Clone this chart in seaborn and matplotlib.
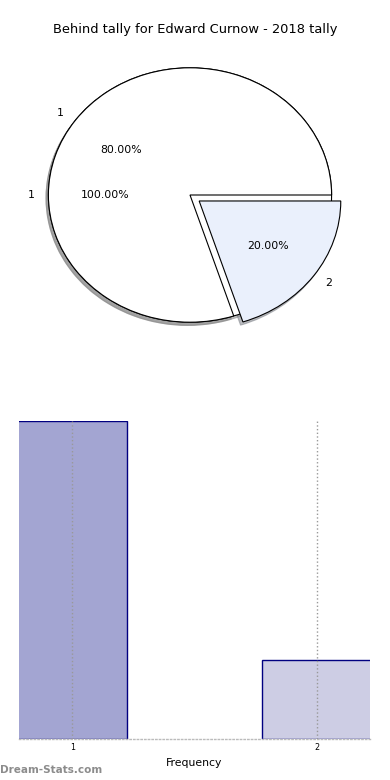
import matplotlib
matplotlib.use("Agg")
import matplotlib.pyplot as plt
import seaborn as sns
import pandas as pd

title = "Behind tally for Edward Curnow - 2018 tally"
full_labels = ["1"]
full_values = [1]
pie_labels = ["1", "2"]
pie_values = [4, 1]
pie_colors = ["#ffffff", "#eaf0fc"]
bar_categories = ["1", "2"]
bar_values = [4, 1]
bar_colors = ["#a3a5d2", "#cdcde4"]
xlabel = "Frequency"
watermark = "Dream-Stats.com"

sns.set_style("white")
plt.rcParams["font.family"] = ["DejaVu Sans"]
plt.rcParams["text.color"] = "black"
plt.rcParams["axes.labelcolor"] = "black"
plt.rcParams["xtick.color"] = "black"

fig = plt.figure(figsize=(3.9, 7.8), dpi=100)

# Pie panel
ax1 = fig.add_axes([13 / 390, 1 - 354 / 780, 354 / 390, 318 / 780])
wp = dict(edgecolor="black", linewidth=0.8)
shadow = dict(ox=-0.012, oy=-0.018, shade=0.45, alpha=0.55)
ax1.pie(full_values, labels=full_labels, autopct="%.2f%%", shadow=shadow,
        colors=["#ffffff"], startangle=0, wedgeprops=wp,
        textprops=dict(fontsize=7.8, color="black"))
ax1.pie(pie_values, labels=pie_labels, autopct="%.2f%%", shadow=shadow,
        explode=[0, 0.08], colors=pie_colors, startangle=0, wedgeprops=wp,
        textprops=dict(fontsize=7.8, color="black"))
ax1.set_aspect("auto")
ax1.set_xlim(-1.25, 1.25)
ax1.set_ylim(-1.25, 1.25)
fig.text(0.5, 1 - 30 / 780, title, fontsize=9.4, ha="center", va="center",
         color="black")

# Bar panel
ax2 = fig.add_axes([19 / 390, 1 - 739 / 780, 351 / 390, 318 / 780])
df = pd.DataFrame({"cat": bar_categories, "val": bar_values})
sns.barplot(data=df, x="cat", y="val", hue="cat", palette=bar_colors,
            legend=False, width=0.45, edgecolor="#000080", linewidth=1.0,
            saturation=1, ax=ax2)
ax2.set_xlim(-0.218, 1.218)
ax2.set_ylim(0, max(bar_values))
ax2.set_axisbelow(False)
ax2.grid(axis="x", linestyle=":", color="#999999", linewidth=1)
ax2.grid(axis="y", visible=False)
for s in ["top", "left", "right"]:
    ax2.spines[s].set_visible(False)
ax2.spines["bottom"].set_linestyle(":")
ax2.spines["bottom"].set_color("#bbbbbb")
ax2.spines["bottom"].set_linewidth(1)
ax2.set_yticks([])
ax2.set_ylabel("")
ax2.tick_params(axis="x", length=0, labelsize=5.8, pad=3)
ax2.set_xlabel(xlabel, fontsize=7.8, labelpad=4)

fig.text(0.0, 1 - 770 / 780, watermark, color="#8c8c8c", fontsize=7.5,
         fontweight="bold", va="center", ha="left")

fig.savefig("out.png", dpi=100)
